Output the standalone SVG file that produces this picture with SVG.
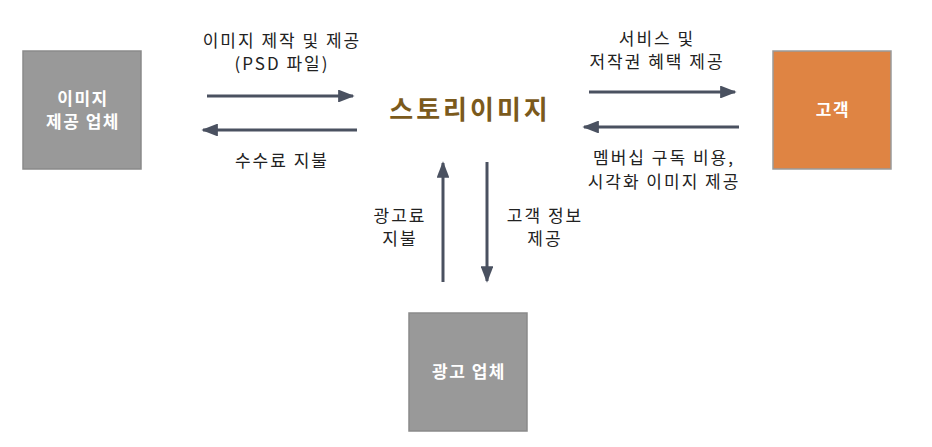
<svg xmlns="http://www.w3.org/2000/svg" width="932" height="447" viewBox="0 0 932 447">
<style>
.box{stroke-width:1.5}
.gray{fill:#999999;stroke:#8a8a8a}
.orange{fill:#df8443;stroke:#9a9a9a}
.bl{font-family:"Noto Sans CJK KR","Noto Sans",sans-serif;font-size:17px;letter-spacing:1.5px;font-weight:bold;fill:#ffffff;text-anchor:middle}
.lb{font-family:"Noto Sans CJK KR","Noto Sans",sans-serif;font-size:17px;letter-spacing:2px;fill:#222222;text-anchor:middle}
.title{font-family:"Noto Sans CJK KR","Noto Sans",sans-serif;font-size:26px;letter-spacing:3px;font-weight:bold;fill:#7b5a1c;text-anchor:middle}
.ar{stroke:#4a5160;stroke-width:3;fill:none;marker-end:url(#ah)}
</style>
<defs>
<marker id="ah" viewBox="0 0 10 10" refX="9" refY="5" markerWidth="5.5" markerHeight="4.3" orient="auto" markerUnits="strokeWidth" preserveAspectRatio="none">
<path d="M0,0 L10,5 L0,10 Z" fill="#4a5160"/>
</marker>
</defs>
<rect width="932" height="447" fill="#ffffff"/>
<g id="supplier">
<rect class="box gray" x="23" y="51" width="118" height="118"/>
<text class="bl" x="83" y="105">이미지</text>
<text class="bl" x="83" y="128">제공 업체</text>
</g>
<g id="customer">
<rect class="box orange" x="773" y="51" width="118" height="118"/>
<text class="bl" x="833" y="116">고객</text>
</g>
<g id="advertiser">
<rect class="box gray" x="409" y="313" width="118" height="118"/>
<text class="bl" x="469" y="378">광고 업체</text>
</g>
<g id="storyimage">
<text class="title" x="470" y="119">스토리이미지</text>
</g>
<g id="connectors">
<line class="ar" x1="207" y1="96" x2="353" y2="96"/>
<line class="ar" x1="357" y1="130" x2="203" y2="130"/>
<line class="ar" x1="589" y1="92" x2="735" y2="92"/>
<line class="ar" x1="739" y1="127" x2="584" y2="127"/>
<line class="ar" x1="443" y1="282" x2="443" y2="163"/>
<line class="ar" x1="487" y1="162" x2="487" y2="281"/>
</g>
<g id="labels">
<text class="lb" x="282" y="47">이미지 제작 및 제공</text>
<text class="lb" x="282" y="70">(PSD 파일)</text>
<text class="lb" x="282" y="167">수수료 지불</text>
<text class="lb" x="657" y="45">서비스 및</text>
<text class="lb" x="657" y="68">저작권 혜택 제공</text>
<text class="lb" x="664" y="164">멤버십 구독 비용,</text>
<text class="lb" x="664" y="188">시각화 이미지 제공</text>
<text class="lb" x="400" y="222">광고료</text>
<text class="lb" x="400" y="245">지불</text>
<text class="lb" x="545" y="222">고객 정보</text>
<text class="lb" x="545" y="245">제공</text>
</g>
</svg>
